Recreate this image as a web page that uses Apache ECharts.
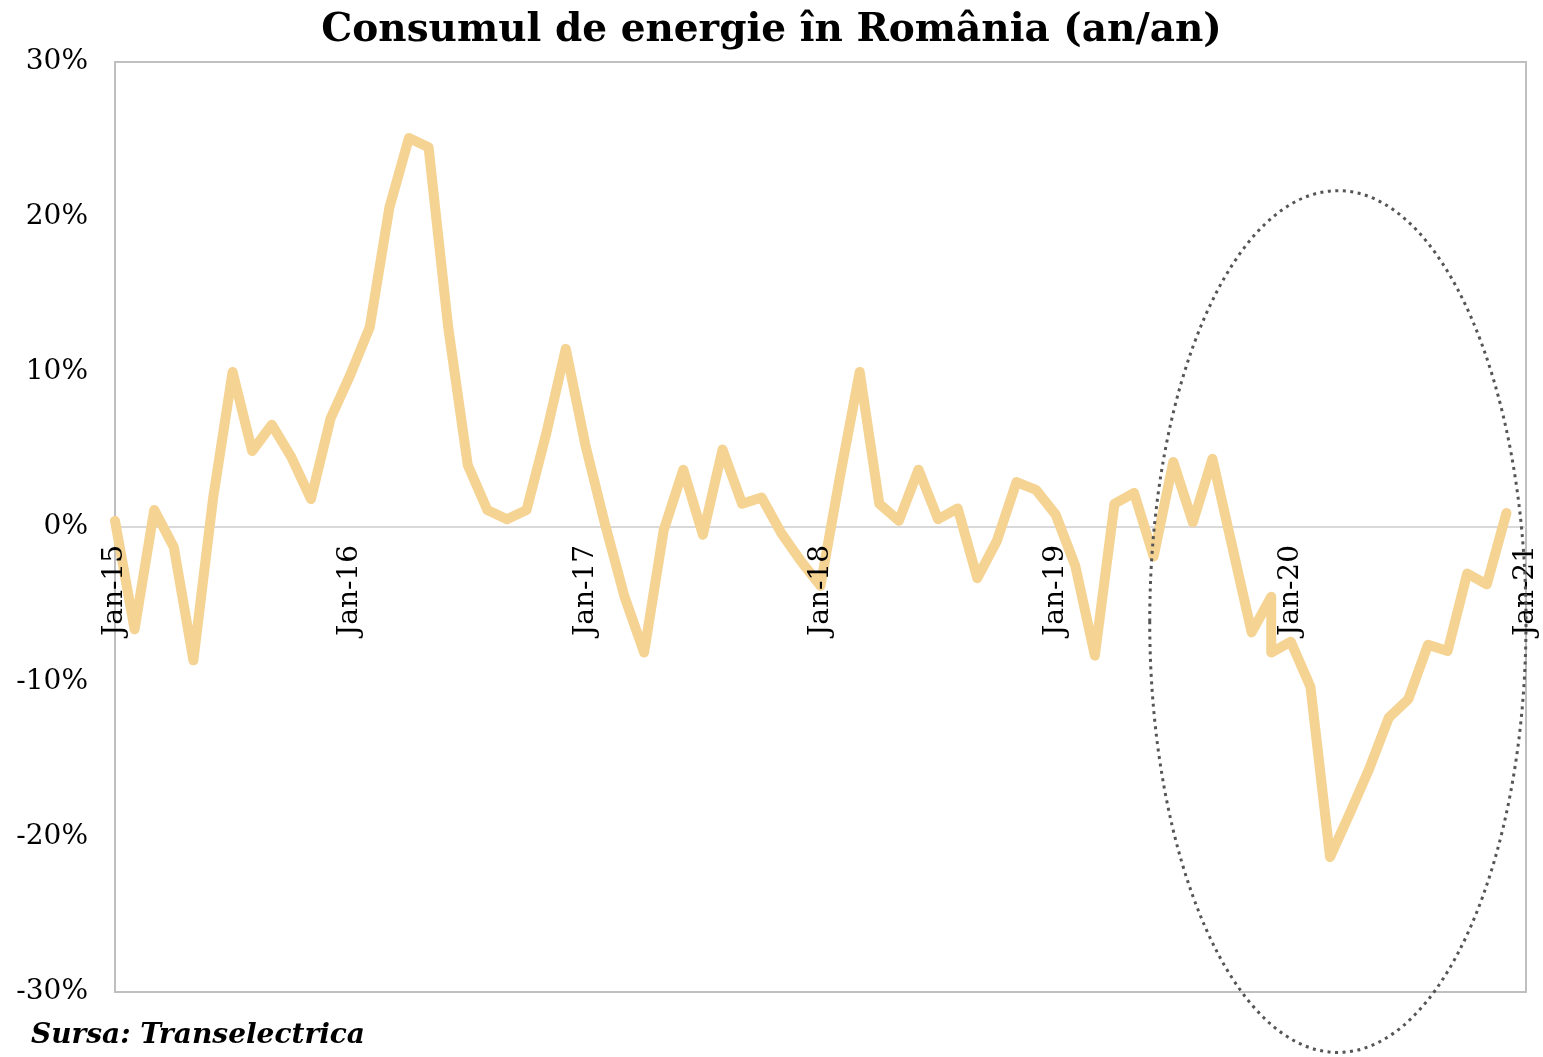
<!DOCTYPE html>
<html>
<head>
<meta charset="utf-8">
<script src="https://cdn.jsdelivr.net/npm/echarts@6/dist/echarts.min.js"></script>
<style>
  html, body { margin: 0; padding: 0; background: #fff; }
  #chart { width: 1543px; height: 1057px; }
</style>
</head>
<body>
<div id="chart"></div>
<script>
// etichete pe axa X (ianuarie din fiecare an)
const yearLabels = ["Jan-15", "Jan-16", "Jan-17", "Jan-18", "Jan-19", "Jan-20", "Jan-21"];

// luni de la Jan-15 (feb-20 apare de doua ori in sursa -> salt vertical)
const monthIdx = [
  0, 1, 2, 3, 4, 5, 6, 7, 8, 9, 10, 11,
  12, 13, 14, 15, 16, 17, 18, 19, 20, 21, 22, 23,
  24, 25, 26, 27, 28, 29, 30, 31, 32, 33, 34, 35,
  36, 37, 38, 39, 40, 41, 42, 43, 44, 45, 46, 47,
  48, 49, 50, 51, 52, 53, 54, 55, 56, 57, 58, 59, 59,
  60, 61, 62, 63, 64, 65, 66, 67, 68, 69, 70, 71
];

// consum an/an, %
const yoy = [
  0.4, -6.6, 1.1, -1.3, -8.6, 1.8, 10.0, 4.9, 6.6, 4.5, 1.8, 7.0,
  9.8, 12.9, 20.6, 25.1, 24.5, 12.9, 4.0, 1.1, 0.5, 1.1, 6.0, 11.5,
  5.3, 0.2, -4.5, -8.1, -0.2, 3.7, -0.5, 5.0, 1.5, 1.9, -0.4, -2.2,
  -3.8, 3.3, 10.0, 1.5, 0.4, 3.7, 0.5, 1.2, -3.3, -0.9, 2.9, 2.4,
  0.8, -2.5, -8.3, 1.5, 2.2, -1.9, 4.2, 0.3, 4.4, -1.2, -6.8, -4.5, -8.1,
  -7.4, -10.3, -21.3, -18.5, -15.6, -12.3, -11.1, -7.6, -8.0, -3.0, -3.7, 0.9
];

const yTicks = { min: -30, max: 30, step: 10 };

// elipsa punctata (in unitati de date)
const ring = { month: 62.4, value: -6.1, rMonths: 9.6, rValue: 27.8 };

const serif = "DejaVu Serif";
const points = monthIdx.map((m, i) => [m, yoy[i]]);

// doar linia de 0% e vizibila
const splitColors = [];
for (let v = yTicks.min; v <= yTicks.max; v += yTicks.step) {
  splitColors.push(v === 0 ? "#d9d9d9" : "rgba(0,0,0,0)");
}

const W = 1543, H = 1057;
const gridBox = { left: 115, right: 17, top: 62, bottom: 65 };
const plotH = H - gridBox.top - gridBox.bottom;
// axa X urcata pana la 0% (etichetele stau sub linia de zero)
const zeroOffset = -plotH * (0 - yTicks.min) / (yTicks.max - yTicks.min);

const chart = echarts.init(document.getElementById("chart"));

chart.setOption({
  backgroundColor: "#fff",
  animation: false,
  title: [
    {
      text: "Consumul de energie în România (an/an)",
      left: "center", top: 6,
      textStyle: { fontFamily: serif, fontWeight: "bold", fontSize: 39, color: "#000" }
    },
    {
      text: "Sursa: Transelectrica",
      left: 26, top: 1017,
      textStyle: { fontFamily: serif, fontWeight: "bold", fontStyle: "italic", fontSize: 28, color: "#000" }
    }
  ],
  grid: Object.assign({}, gridBox, {
    outerBoundsMode: "none",
    show: true, borderColor: "#bfbfbf", borderWidth: 2, backgroundColor: "transparent"
  }),
  xAxis: {
    type: "value", min: 0, max: 72, interval: 12,
    position: "bottom", offset: zeroOffset, z: 5,
    splitLine: { show: false }, axisTick: { show: false },
    axisLine: { show: false, onZero: false },
    axisLabel: {
      rotate: 90, margin: 18, showMinLabel: true, showMaxLabel: true,
      fontFamily: serif, fontSize: 28, color: "#000",
      formatter: (v) => yearLabels[Math.round(v / 12)] || ""
    }
  },
  yAxis: {
    type: "value", min: yTicks.min, max: yTicks.max, interval: yTicks.step,
    axisLine: { show: false }, axisTick: { show: false },
    splitLine: { show: true, lineStyle: { color: splitColors, width: 2 } },
    axisLabel: {
      margin: 27, fontFamily: serif, fontSize: 28, color: "#000",
      formatter: (v) => v + "%"
    }
  },
  series: [{
    type: "line",
    data: points,
    showSymbol: false,
    lineStyle: { color: "#F5D393", width: 10, join: "round", cap: "round" },
    z: 2
  }]
});

// elipsa, pozitionata prin scalele graficului
const c = chart.convertToPixel({ gridIndex: 0 }, [ring.month, ring.value]);
const e = chart.convertToPixel({ gridIndex: 0 }, [ring.month + ring.rMonths, ring.value + ring.rValue]);
chart.setOption({
  graphic: [{
    type: "ellipse",
    z: 10,
    shape: { cx: c[0], cy: c[1], rx: Math.abs(e[0] - c[0]), ry: Math.abs(c[1] - e[1]) },
    style: { fill: null, stroke: "#555", lineWidth: 3, lineDash: [3, 4.5] }
  }]
});
</script>
</body>
</html>
